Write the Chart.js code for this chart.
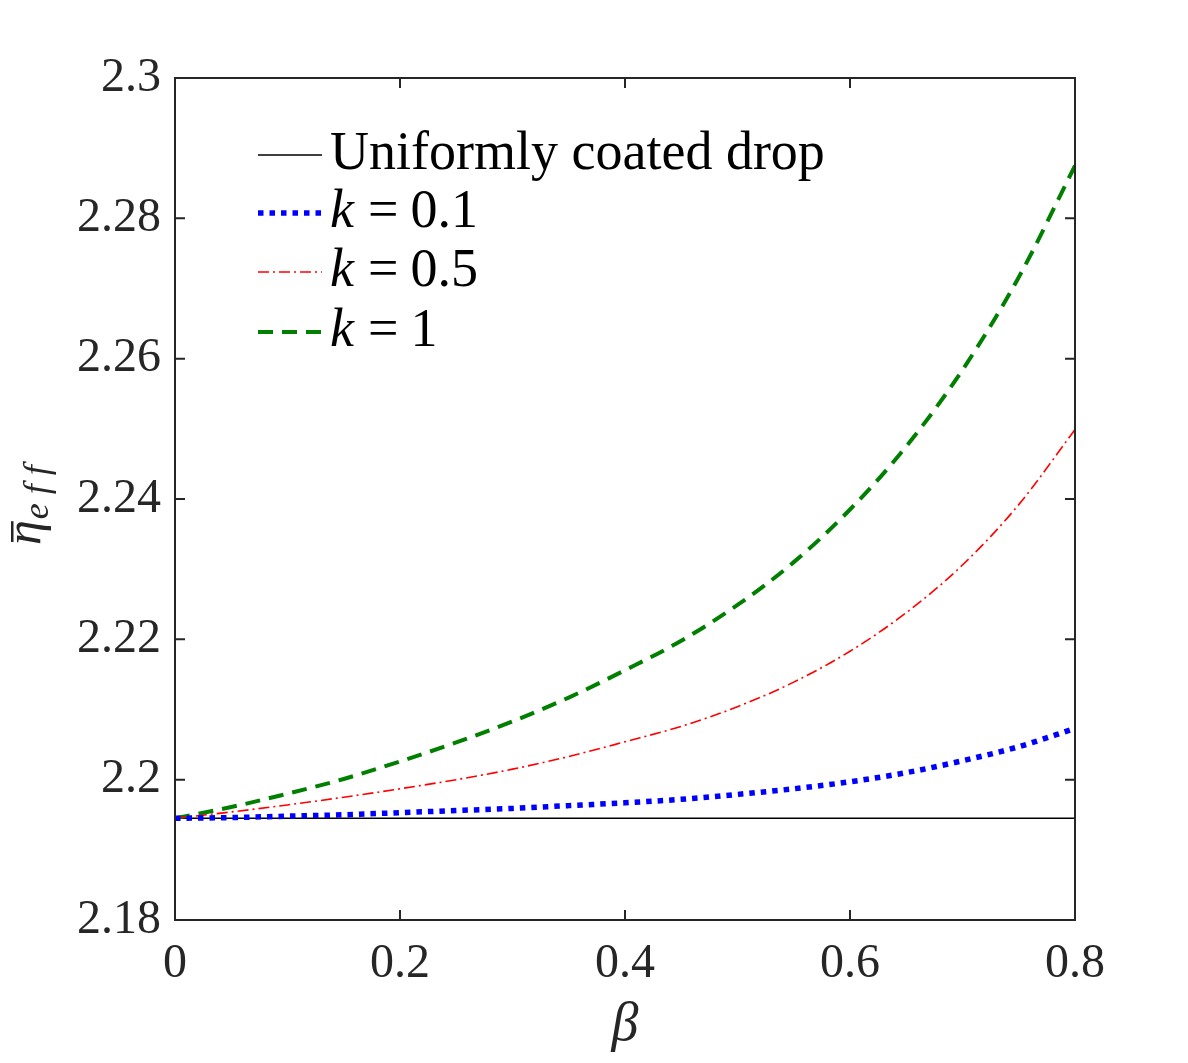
<!DOCTYPE html>
<html>
<head>
<meta charset="utf-8">
<script src="https://cdn.jsdelivr.net/npm/chart.js@4.4.1/dist/chart.umd.min.js"></script>
<style>
html,body{margin:0;padding:0;background:#fff;}
#wrap{width:1188px;height:1063px;position:relative;}
</style>
</head>
<body>
<div id="wrap"><canvas id="c" width="1188" height="1063"></canvas></div>
<script>
const betaValues = [0, 0.05, 0.1, 0.15, 0.2, 0.25, 0.3, 0.35, 0.4, 0.45, 0.5, 0.55, 0.6, 0.65, 0.7, 0.75, 0.8];
const uniformValues = [2.1945, 2.1945, 2.1945, 2.1945, 2.1945, 2.1945, 2.1945, 2.1945, 2.1945, 2.1945, 2.1945, 2.1945, 2.1945, 2.1945, 2.1945, 2.1945, 2.1945];
const k01Values = [2.1945, 2.1946, 2.1948, 2.1950, 2.1953, 2.1956, 2.1959, 2.1963, 2.1967, 2.1972, 2.1979, 2.1987, 2.1997, 2.2010, 2.2027, 2.2047, 2.2073];
const k05Values = [2.1945, 2.1954, 2.1964, 2.1975, 2.1987, 2.2000, 2.2015, 2.2033, 2.2054, 2.2076, 2.2104, 2.2139, 2.2183, 2.2238, 2.2306, 2.2392, 2.2499];
const k1Values = [2.1945, 2.1961, 2.1980, 2.2001, 2.2026, 2.2053, 2.2083, 2.2117, 2.2156, 2.2198, 2.2249, 2.2310, 2.2385, 2.2475, 2.2584, 2.2716, 2.2875];
const xTicks = [0, 0.2, 0.4, 0.6, 0.8];
const yTicks = [2.18, 2.2, 2.22, 2.24, 2.26, 2.28, 2.3];
const seriesLabels = ["Uniformly coated drop", "k = 0.1", "k = 0.5", "k = 1"];

const SERIF = '"Liberation Serif", "Times New Roman", serif';

function pts(vals){ return betaValues.map((b,i)=>({x:b,y:vals[i]})); }

const styles = [
  {color:'#000000', width:1.6, dash:[]},
  {color:'#0000ff', width:5.5, dash:[5.5,6]},
  {color:'#ff0000', width:1.6, dash:[11,4,2,4]},
  {color:'#007f00', width:4, dash:[15,9]}
];
const allVals = [uniformValues, k01Values, k05Values, k1Values];

const datasets = allVals.map((v,i)=>({
  label: seriesLabels[i],
  data: pts(v),
  borderColor: styles[i].color,
  borderWidth: styles[i].width,
  borderDash: styles[i].dash,
  borderCapStyle: 'butt',
  pointRadius: 0,
  fill: false,
  cubicInterpolationMode: 'monotone'
}));
const order = [0,3,2,1];
datasets.forEach((d,i)=>{ d.order = -order.indexOf(i); });

const framePlugin = {
  id:'frame',
  afterDatasetsDraw(chart){
    const ctx = chart.ctx, a = chart.chartArea;
    const xs = chart.scales.x, ys = chart.scales.y;
    ctx.save();
    ctx.strokeStyle = '#262626';
    ctx.lineWidth = 2;
    ctx.setLineDash([]);
    ctx.strokeRect(a.left, a.top, a.right-a.left, a.bottom-a.top);
    const tl = 10;
    ctx.beginPath();
    xTicks.forEach(v=>{
      const p = xs.getPixelForValue(v);
      ctx.moveTo(p, a.bottom); ctx.lineTo(p, a.bottom-tl);
      ctx.moveTo(p, a.top); ctx.lineTo(p, a.top+tl);
    });
    yTicks.forEach(v=>{
      const p = ys.getPixelForValue(v);
      ctx.moveTo(a.left, p); ctx.lineTo(a.left+tl, p);
      ctx.moveTo(a.right, p); ctx.lineTo(a.right-tl, p);
    });
    ctx.stroke();

    // tick labels
    ctx.fillStyle = '#262626';
    ctx.font = '48px ' + SERIF;
    ctx.textAlign = 'right'; ctx.textBaseline = 'middle';
    yTicks.forEach(v=>{
      const p = ys.getPixelForValue(v);
      const t = (Math.round(v*100)/100).toString();
      ctx.fillText(t, a.left-14, p);
    });
    ctx.textAlign = 'center'; ctx.textBaseline = 'top';
    xTicks.forEach(v=>{
      const p = xs.getPixelForValue(v);
      ctx.fillText(v.toString(), p, a.bottom+20);
    });

    // axis titles
    ctx.font = 'italic 54px ' + SERIF;
    ctx.textAlign = 'center'; ctx.textBaseline = 'alphabetic';
    ctx.fillText('β', (a.left+a.right)/2, 1040);

    ctx.save();
    ctx.translate(40, 545);
    ctx.rotate(-Math.PI/2);
    ctx.textAlign = 'left';
    ctx.font = 'italic 50px ' + SERIF;
    ctx.fillText('η', 0, 0);
    const ew = ctx.measureText('η').width;
    ctx.fillRect(3, -29, ew-4, 2.5);
    ctx.font = 'italic 36px ' + SERIF;
    ctx.fillText('e f f', ew+1, 8);
    ctx.restore();

    // legend
    const ly = [155, 213, 272, 332];
    const lx0 = 258, lx1 = 322;
    chart.data.datasets.forEach((d,i)=>{
      ctx.beginPath();
      ctx.strokeStyle = d.borderColor;
      ctx.lineWidth = d.borderWidth;
      ctx.setLineDash(d.borderDash);
      ctx.lineCap = 'butt';
      ctx.moveTo(lx0, ly[i]); ctx.lineTo(lx1, ly[i]);
      ctx.stroke();
      ctx.setLineDash([]);
      ctx.fillStyle = '#000';
      ctx.textBaseline = 'middle';
      ctx.textAlign = 'left';
      const lab = d.label;
      if (lab.startsWith('k')) {
        const parts = lab.split(' ');
        ctx.font = 'italic 54px ' + SERIF;
        ctx.fillText(parts[0], 330, ly[i]);
        let x = 330 + ctx.measureText(parts[0]).width + 14;
        ctx.font = '54px ' + SERIF;
        ctx.fillText(parts[1], x, ly[i]);
        x += ctx.measureText(parts[1]).width + 12;
        ctx.fillText(parts[2], x, ly[i]);
      } else {
        ctx.font = '54px ' + SERIF;
        ctx.fillText(lab, 330, ly[i]);
      }
    });
    ctx.restore();
  }
};

new Chart(document.getElementById('c'), {
  type:'line',
  data:{datasets},
  options:{
    responsive:false,
    animation:false,
    layout:{padding:{left:0, top:78, right:113, bottom:0}},
    plugins:{legend:{display:false}, tooltip:{enabled:false}},
    scales:{
      x:{type:'linear', min:0, max:0.8,
         grid:{display:false, drawTicks:false}, border:{display:false},
         ticks:{display:false, stepSize:0.2},
         afterFit(s){ s.height = 143; }},
      y:{type:'linear', min:2.18, max:2.3,
         grid:{display:false, drawTicks:false}, border:{display:false},
         ticks:{display:false, stepSize:0.02},
         afterFit(s){ s.width = 175; }}
    }
  },
  plugins:[framePlugin]
});
</script>
</body>
</html>
